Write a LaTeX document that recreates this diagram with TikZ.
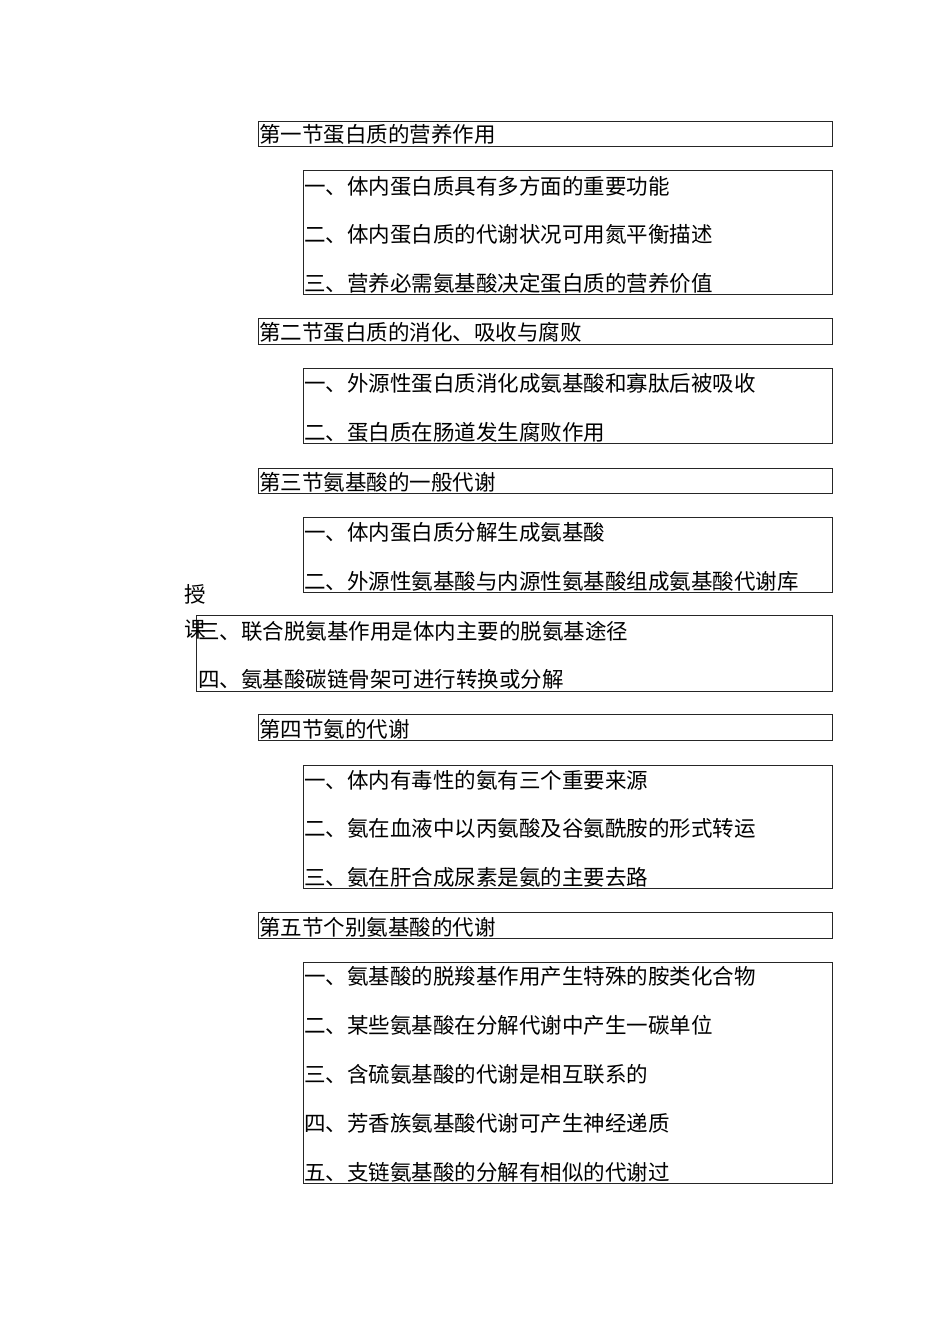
\documentclass[tikz,border=0pt]{standalone}
\usepackage{fontspec}
\newfontfamily\cjk{Noto Sans CJK SC}
\begin{document}
\begin{tikzpicture}[x=1pt,y=-1pt,
  box/.style={draw=black!85,line width=0.8pt},
  txt/.style={anchor=west,inner sep=0pt,font=\cjk\fontsize{21.5}{22}\selectfont}]
\useasboundingbox (0,0) rectangle (950,1344);
% sections
\foreach \t/\b in {121/146,318/344,468/493,714/740,912/938}{\draw[box] (258,\t) rectangle (832,\b);}
\foreach \t/\b in {170/294,368/443,517/592,765/888,962/1183}{\draw[box] (303,\t) rectangle (832,\b);}
\draw[box] (196,615) rectangle (832,691);
\node[txt] (s1) at (259,134) {第一节蛋白质的营养作用};
\node[txt] (a1) at (304,186) {一、体内蛋白质具有多方面的重要功能};
\node[txt] (a2) at (304,234) {二、体内蛋白质的代谢状况可用氮平衡描述};
\node[txt] (a3) at (304,283) {三、营养必需氨基酸决定蛋白质的营养价值};
\node[txt] (s2) at (259,332) {第二节蛋白质的消化、吸收与腐败};
\node[txt] (b1) at (304,383) {一、外源性蛋白质消化成氨基酸和寡肽后被吸收};
\node[txt] (b2) at (304,432) {二、蛋白质在肠道发生腐败作用};
\node[txt] (s3) at (259,482) {第三节氨基酸的一般代谢};
\node[txt] (c1) at (304,532) {一、体内蛋白质分解生成氨基酸};
\node[txt] (c2) at (304,581) {二、外源性氨基酸与内源性氨基酸组成氨基酸代谢库};
\node[txt] (k1) at (184,594) {授};
\node[txt] (k2) at (184,630) {课};
\node[txt] (c3) at (198,631) {三、联合脱氨基作用是体内主要的脱氨基途径};
\node[txt] (c4) at (198,679) {四、氨基酸碳链骨架可进行转换或分解};
\node[txt] (s4) at (259,729) {第四节氨的代谢};
\node[txt] (d1) at (304,780) {一、体内有毒性的氨有三个重要来源};
\node[txt] (d2) at (304,828) {二、氨在血液中以丙氨酸及谷氨酰胺的形式转运};
\node[txt] (d3) at (304,877) {三、氨在肝合成尿素是氨的主要去路};
\node[txt] (s5) at (259,927) {第五节个别氨基酸的代谢};
\node[txt] (e1) at (304,976) {一、氨基酸的脱羧基作用产生特殊的胺类化合物};
\node[txt] (e2) at (304,1025) {二、某些氨基酸在分解代谢中产生一碳单位};
\node[txt] (e3) at (304,1074) {三、含硫氨基酸的代谢是相互联系的};
\node[txt] (e4) at (304,1123) {四、芳香族氨基酸代谢可产生神经递质};
\node[txt] (e5) at (304,1172) {五、支链氨基酸的分解有相似的代谢过};
\end{tikzpicture}
\end{document}
